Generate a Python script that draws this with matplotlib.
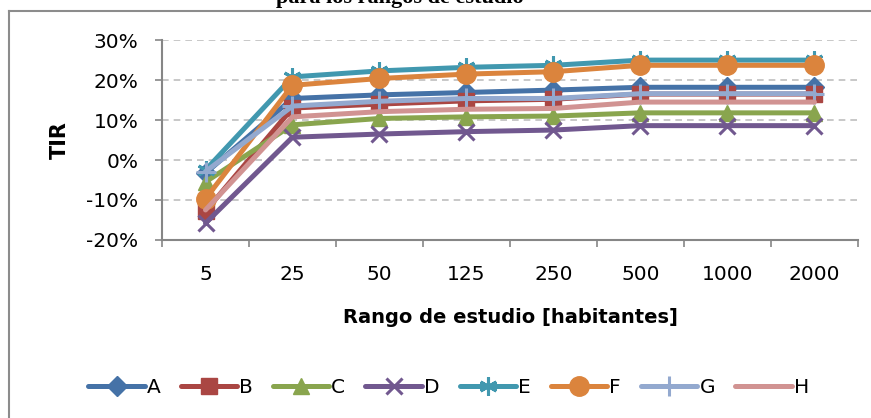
import matplotlib.pyplot as plt
from matplotlib.lines import Line2D
from matplotlib.ticker import FixedLocator, PercentFormatter

# data (TIR as fraction)
rangos = ['5', '25', '50', '125', '250', '500', '1000', '2000']
A = [-0.033, 0.154, 0.163, 0.169, 0.175, 0.182, 0.182, 0.182]
B = [-0.128, 0.130, 0.140, 0.148, 0.152, 0.165, 0.165, 0.165]
C = [-0.055, 0.088, 0.104, 0.108, 0.110, 0.118, 0.118, 0.118]
D = [-0.158, 0.057, 0.065, 0.071, 0.075, 0.086, 0.086, 0.086]
E = [-0.025, 0.208, 0.223, 0.232, 0.237, 0.250, 0.250, 0.250]
F = [-0.097, 0.187, 0.204, 0.215, 0.221, 0.237, 0.237, 0.237]
G = [-0.029, 0.135, 0.147, 0.154, 0.154, 0.166, 0.166, 0.166]
H = [-0.125, 0.108, 0.121, 0.127, 0.129, 0.145, 0.145, 0.145]

series = [A, B, C, D, E, F, G, H]
names = ['A', 'B', 'C', 'D', 'E', 'F', 'G', 'H']
colors = ['#4572A7', '#AA4643', '#89A54E', '#71588F',
          '#4198AF', '#DB843D', '#93A9CF', '#D19392']
markers = ['D', 's', '^', 'x', (6, 2, 0), 'o', '+', None]
msizes = [10, 11, 11, 12, 13, 14, 14, 0]

plt.rcParams['font.family'] = ['DejaVu Sans']
plt.rcParams['axes.unicode_minus'] = False

fig = plt.figure(figsize=(8.71, 4.18), dpi=100)
ax = fig.add_axes([0.186, 0.426, 0.799, 0.478])

x = list(range(len(rangos)))
for s, n, c, m, ms in zip(series, names, colors, markers, msizes):
    ax.plot(x, s, color=c, lw=3.6, marker=m, markersize=ms,
            markeredgewidth=2.2 if m in ('x', '+', (6, 2, 0)) else 1,
            markeredgecolor=c, markerfacecolor=c, label=n,
            solid_capstyle='round')

ax.set_xlim(-0.5, 7.5)
ax.set_ylim(-0.2, 0.3)
ax.yaxis.set_major_locator(FixedLocator([-0.2, -0.1, 0, 0.1, 0.2, 0.3]))
ax.yaxis.set_major_formatter(PercentFormatter(1.0, decimals=0))
ax.xaxis.set_major_locator(FixedLocator([i - 0.5 for i in range(9)]))
ax.xaxis.set_minor_locator(FixedLocator(x))
ax.set_xticklabels([])
ax.set_xticklabels(rangos, minor=True)
ax.tick_params(axis='x', which='minor', length=0, labelsize=14.5, pad=18)
ax.tick_params(axis='x', which='major', length=5, width=1.2, color='#868686')
ax.tick_params(axis='y', length=5, width=1.2, color='#868686', labelsize=14.5, pad=12)

ax.grid(axis='y', color='#BFBFBF', linestyle=(0, (4, 3)), lw=1.2)
ax.set_axisbelow(True)
for sp in ['top', 'right']:
    ax.spines[sp].set_visible(False)
for sp in ['left', 'bottom']:
    ax.spines[sp].set_color('#868686')
    ax.spines[sp].set_linewidth(1.5)

ax.set_ylabel('TIR', fontsize=15, fontweight='bold', labelpad=12)
ax.set_xlabel('Rango de estudio [habitantes]', fontsize=14, fontweight='bold', labelpad=17)

fig.legend(loc='center', bbox_to_anchor=(0.515, 0.074), ncol=8, frameon=False,
           fontsize=14.5, handlelength=2.8, handletextpad=0.1, columnspacing=1.0)

# chart frame (only top and left edges fall inside the image) and clipped title
x0 = 9 / 871
y0 = 1 - 11 / 418
fig.add_artist(Line2D([x0, 1.0], [y0, y0], transform=fig.transFigure,
                      color='#8C8C8C', lw=1.5))
fig.add_artist(Line2D([x0, x0], [0.0, y0], transform=fig.transFigure,
                      color='#8C8C8C', lw=1.5))
fig.text(0.459, 1 - 3 / 418, 'para los rangos de estudio', ha='center',
         va='baseline', fontsize=16, fontweight='bold', family='Liberation Serif')

fig.savefig('out.png', dpi=100)
